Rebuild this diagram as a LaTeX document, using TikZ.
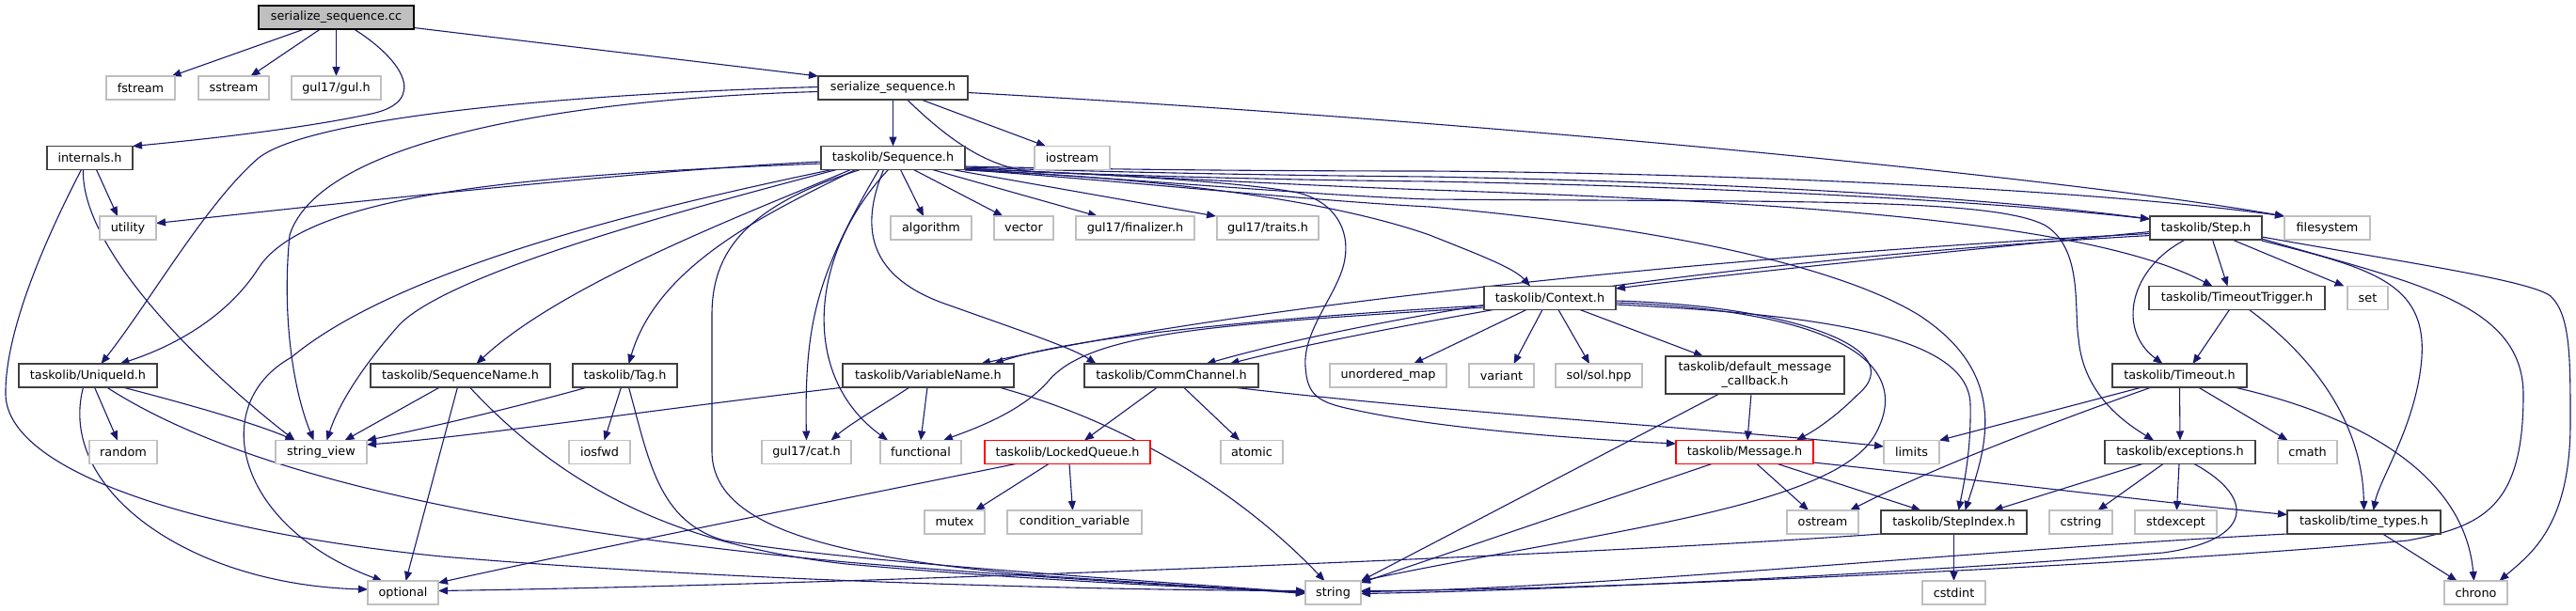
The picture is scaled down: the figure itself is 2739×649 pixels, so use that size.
\documentclass[tikz,border=0pt]{standalone}
\usepackage{fontspec}
\setmainfont{DejaVu Sans}
\usetikzlibrary{arrows.meta}
\definecolor{edgeblue}{HTML}{191970}
\definecolor{extgray}{HTML}{BFBFBF}
\definecolor{docgray}{HTML}{404040}
\definecolor{truncred}{HTML}{FF0000}
\newcommand\dxfont{\fontsize{12.8pt}{15pt}\selectfont}
\pgfdeclarelayer{bg}
\pgfsetlayers{bg,main}
\tikzset{
  box/.style={rectangle, minimum height=25pt, inner sep=0pt, outer sep=0pt, font=\dxfont, line width=1.2pt, fill=white},
  docbox/.style={box, draw=docgray},
  extbox/.style={box, draw=extgray},
  truncbox/.style={box, draw=truncred},
  rootbox/.style={box, draw=black, fill=extgray},
  dep/.style={draw=edgeblue, line width=1.1pt, -{Triangle[length=10pt,width=8pt]}},
}
\begin{document}
\begin{tikzpicture}[x=1pt,y=-1pt]
\useasboundingbox (0,0) rectangle (2739,649);
% ---------------- nodes ----------------
\node[rootbox, minimum width=165pt] (cc) at (357.5,18.5) {serialize\_sequence.cc};
\node[extbox, minimum width=73pt] (fstream) at (149.5,93.5) {fstream};
\node[extbox, minimum width=75pt] (sstream) at (248.5,93.5) {sstream};
\node[extbox, minimum width=95pt] (gul) at (357.5,93.5) {gul17/gul.h};
\node[docbox, minimum width=159pt] (ssh) at (949.5,93.5) {serialize\_sequence.h};
\node[docbox, minimum width=91pt] (internals) at (95.5,168) {internals.h};
\node[docbox, minimum width=153pt] (seq) at (949.5,168) {taskolib/Sequence.h};
\node[extbox, minimum width=80pt] (iostream) at (1140,168) {iostream};
\node[extbox, minimum width=60pt] (utility) at (136,242.5) {utility};
\node[extbox, minimum width=86pt] (algorithm) at (990,242.5) {algorithm};
\node[extbox, minimum width=63pt] (vector) at (1088.5,242.5) {vector};
\node[extbox, minimum width=126pt] (finalizer) at (1207,242.5) {gul17/finalizer.h};
\node[extbox, minimum width=108pt] (traits) at (1348,242.5) {gul17/traits.h};
\node[docbox, minimum width=119pt] (step) at (2345.5,242.5) {taskolib/Step.h};
\node[extbox, minimum width=91pt] (filesystem) at (2474.5,242.5) {filesystem};
\node[docbox, minimum width=140pt] (context) at (1648,317) {taskolib/Context.h};
\node[docbox, minimum width=187pt] (tt) at (2378.5,317) {taskolib/TimeoutTrigger.h};
\node[extbox, minimum width=43pt] (nset) at (2517.5,317) {set};
\node[docbox, minimum width=147pt] (uid) at (93.5,399.5) {taskolib/UniqueId.h};
\node[docbox, minimum width=191pt] (seqname) at (489.5,399.5) {taskolib/SequenceName.h};
\node[docbox, minimum width=111pt] (tag) at (664.5,399.5) {taskolib/Tag.h};
\node[docbox, minimum width=182pt] (varname) at (987,399.5) {taskolib/VariableName.h};
\node[docbox, minimum width=185pt] (comm) at (1245.5,399.5) {taskolib/CommChannel.h};
\node[extbox, minimum width=124pt] (umap) at (1476,399.5) {unordered\_map};
\node[extbox, minimum width=69pt] (variant) at (1596.5,399.5) {variant};
\node[extbox, minimum width=92pt] (sol) at (1700,399.5) {sol/sol.hpp};
\node[docbox, minimum width=190pt, minimum height=40pt, align=center] (dmc) at (1866,399) {taskolib/default\_message\\\_callback.h};
\node[docbox, minimum width=143pt] (timeout) at (2317.5,399.5) {taskolib/Timeout.h};
\node[extbox, minimum width=72pt] (random) at (131,481) {random};
\node[extbox, minimum width=97pt] (sv) at (341.5,481) {string\_view};
\node[extbox, minimum width=65pt] (iosfwd) at (637.5,481) {iosfwd};
\node[extbox, minimum width=95pt] (cat) at (857.5,481) {gul17/cat.h};
\node[extbox, minimum width=86pt] (functional) at (979,481) {functional};
\node[truncbox, minimum width=176pt] (lq) at (1135,481) {taskolib/LockedQueue.h};
\node[extbox, minimum width=66pt] (atomic) at (1331,481) {atomic};
\node[truncbox, minimum width=146pt] (msg) at (1855,481) {taskolib/Message.h};
\node[extbox, minimum width=59pt] (limits) at (2032.5,481) {limits};
\node[docbox, minimum width=160pt] (exc) at (2318,481) {taskolib/exceptions.h};
\node[extbox, minimum width=63pt] (cmath) at (2453.5,481) {cmath};
\node[extbox, minimum width=64pt] (mutex) at (1015,555.5) {mutex};
\node[extbox, minimum width=143pt] (condvar) at (1142.5,555.5) {condition\_variable};
\node[extbox, minimum width=76pt] (ostream) at (1938,555.5) {ostream};
\node[docbox, minimum width=155pt] (stepidx) at (2077.5,555.5) {taskolib/StepIndex.h};
\node[extbox, minimum width=67pt] (cstring) at (2212.5,555.5) {cstring};
\node[extbox, minimum width=87pt] (stdexcept) at (2313.5,555.5) {stdexcept};
\node[docbox, minimum width=163pt] (ttypes) at (2513.5,555.5) {taskolib/time\_types.h};
\node[extbox, minimum width=75pt] (optional) at (428.5,630.5) {optional};
\node[extbox, minimum width=59pt] (nstring) at (1417.5,630.5) {string};
\node[extbox, minimum width=67pt] (cstdint) at (2077.5,630.5) {cstdint};
\node[extbox, minimum width=67pt] (chrono) at (2632.5,630.5) {chrono};
% ---------------- edges ----------------
\begin{pgfonlayer}{bg}
\fill[white] (0,0) rectangle (2739,649);
% serialize_sequence.cc
\draw[dep] ([xshift=-34pt]cc.south) -- ([xshift=33pt]fstream.north);
\draw[dep] ([xshift=-17pt]cc.south) -- ([xshift=18pt]sstream.north);
\draw[dep] (cc.south) -- (gul.north);
\draw[dep] ([xshift=19pt]cc.south) .. controls (430,65) and (455,108) .. (395,121) .. controls (320,137) and (220,148) .. (internals.north east);
\draw[dep] ([yshift=-11pt]cc.east) -- (ssh.north west);
% internals.h
\draw[dep] ([xshift=7pt]internals.south) -- ([xshift=-11pt]utility.north);
\draw[dep] ([xshift=-7pt]internals.south) .. controls (86,260) and (200,380) .. ([xshift=-28pt]sv.north);
\draw[dep] ([xshift=-9pt]internals.south) .. controls (40,270) and (5,360) .. (6,420) .. controls (8,500) and (200,565) .. (470,592) .. controls (800,620) and (1200,628) .. ([yshift=2pt]nstring.west);
% serialize_sequence.h
\draw[dep] (ssh.south) -- (seq.north);
\draw[dep] ([xshift=30pt]ssh.south) -- ([xshift=-28pt]iostream.north);
\draw[dep] ([yshift=-5pt]ssh.east) .. controls (1600,130) and (2200,190) .. (filesystem.north west);
\draw[dep] ([yshift=1pt]ssh.west) .. controls (600,100) and (330,125) .. (275,168) .. controls (220,215) and (160,320) .. ([xshift=14pt]uid.north);
\draw[dep] ([yshift=-4pt]ssh.west) .. controls (600,105) and (340,150) .. (308,250) .. controls (300,330) and (310,410) .. ([xshift=-8pt]sv.north);
\draw[dep] ([xshift=15pt]ssh.south) .. controls (1010,150) and (1050,178) .. (1100,183) .. controls (1300,190) and (1420,192) .. (1520,193) .. controls (1900,200) and (2150,218) .. ([yshift=-3pt]step.north west);
% Sequence.h
\draw[dep] ([yshift=-4pt]seq.west) .. controls (700,180) and (400,212) .. ([yshift=5pt]utility.east);
\draw[dep] ([yshift=-6pt]seq.west) .. controls (600,185) and (330,200) .. (275,285) .. controls (240,340) and (180,370) .. ([xshift=34pt]uid.north);
\draw[dep] ([xshift=-65pt]seq.south) .. controls (720,215) and (430,280) .. (310,380) .. controls (220,430) and (250,560) .. ([xshift=-22pt]optional.north);
\draw[dep] ([xshift=-60pt]seq.south) .. controls (720,225) and (480,290) .. (425,345) .. controls (385,390) and (360,430) .. ([xshift=6pt]sv.north);
\draw[dep] ([xshift=-45pt]seq.south) .. controls (800,225) and (600,300) .. ([xshift=17pt]seqname.north);
\draw[dep] ([xshift=-40pt]seq.south) .. controls (820,225) and (700,280) .. ([xshift=4pt]tag.north);
\draw[dep] ([xshift=-35pt]seq.south) .. controls (790,220) and (757,270) .. (757,335) -- (757,480) .. controls (757,560) and (880,592) .. (1100,612) .. controls (1250,622) and (1330,628) .. ([yshift=1pt]nstring.west);
\draw[dep] ([xshift=-15pt]seq.south) .. controls (870,290) and (855,340) .. (cat.north);
\draw[dep] ([xshift=-5pt]seq.south) .. controls (860,270) and (850,400) .. ([xshift=-35pt]functional.north);
\draw[dep] ([xshift=-10pt]seq.south) .. controls (915,240) and (920,295) .. (1010,325) .. controls (1080,350) and (1140,370) .. ([xshift=-80pt]comm.north);
\draw[dep] ([xshift=8pt]seq.south) -- ([xshift=-8pt]algorithm.north);
\draw[dep] ([xshift=22pt]seq.south) -- ([xshift=-22pt]vector.north);
\draw[dep] ([xshift=42pt]seq.south) -- ([xshift=-40pt]finalizer.north);
\draw[dep] ([xshift=63pt]seq.south) -- ([xshift=-55pt]traits.north);
\draw[dep] ([yshift=-9pt]seq.east) .. controls (1200,181) and (1400,182) .. (1520,182) .. controls (1900,185) and (2250,205) .. (filesystem.north west);
\draw[dep] ([yshift=-10pt]seq.east) .. controls (1200,184) and (1400,187) .. (1520,188) .. controls (1900,195) and (2150,215) .. ([yshift=-3pt]step.north west);
\draw[dep] ([yshift=-11pt]seq.east) .. controls (1200,187) and (1400,198) .. (1520,202) .. controls (1900,215) and (2220,235) .. ([xshift=-26pt]tt.north);
\draw[dep] ([yshift=-12pt]seq.east) .. controls (1200,190) and (1400,208) .. (1520,212) .. controls (1900,215) and (2120,210) .. (2175,240) .. controls (2215,265) and (2205,330) .. (2210,360) .. controls (2215,420) and (2260,450) .. ([xshift=-28pt]exc.north);
\draw[dep] ([yshift=-12.5pt]seq.east) .. controls (1200,193) and (1400,214) .. (1520,220) .. controls (1750,240) and (1950,280) .. (2040,335) .. controls (2140,400) and (2110,480) .. ([xshift=12pt]stepidx.north);
\draw[dep] ([yshift=-11.5pt]seq.east) .. controls (1200,186) and (1330,195) .. (1380,205) .. controls (1420,215) and (1435,245) .. (1430,275) .. controls (1425,310) and (1385,350) .. (1388,390) .. controls (1390,420) and (1400,428) .. (1440,436) .. controls (1540,458) and (1700,468) .. ([yshift=9pt]msg.west);
\draw[dep] ([yshift=-13pt]seq.east) .. controls (1250,190) and (1420,215) .. (1520,250) .. controls (1570,270) and (1610,285) .. ([xshift=-21pt]context.north);
% Step.h
\draw[dep] ([xshift=-22pt]step.south) .. controls (2265,285) and (2250,350) .. ([xshift=-18pt]timeout.north);
\draw[dep] ([xshift=7pt]step.south) -- ([xshift=-10pt]tt.north);
\draw[dep] ([xshift=28pt]step.south) -- ([xshift=-25pt]nset.north);
\draw[dep] ([yshift=-1pt]step.south east) .. controls (2520,285) and (2580,300) .. (2575,380) .. controls (2570,450) and (2530,510) .. ([xshift=10pt]ttypes.north);
\draw[dep] ([yshift=1pt]step.south east) .. controls (2560,300) and (2683,320) .. (2683,420) .. controls (2683,540) and (2640,560) .. (2560,575) .. controls (2300,600) and (1700,628) .. ([yshift=2pt]nstring.east);
\draw[dep] ([yshift=3pt]step.south east) .. controls (2550,278) and (2690,298) .. (2712,315) .. controls (2733,335) and (2733,380) .. (2733,450) .. controls (2733,560) and (2690,590) .. ([xshift=25pt]chrono.north);
\draw[dep] ([yshift=-4pt]step.west) .. controls (2100,265) and (1850,290) .. ([yshift=10pt]context.east);
\draw[dep] ([yshift=-6pt]step.west) .. controls (1900,268) and (1350,318) .. ([xshift=56pt]varname.north);
\draw[dep] ([yshift=-8pt]step.west) .. controls (1900,272) and (1500,325) .. ([xshift=37pt]comm.north);
% Context.h
\draw[dep] ([yshift=-8pt]context.west) .. controls (1400,335) and (1150,355) .. ([xshift=70pt]varname.north);
\draw[dep] ([yshift=-10pt]context.west) .. controls (1300,345) and (1160,352) .. (1115,405) .. controls (1085,440) and (1030,458) .. ([xshift=24pt]functional.north);
\draw[dep] ([xshift=-60pt]context.south) .. controls (1500,345) and (1380,368) .. ([xshift=62pt]comm.north);
\draw[dep] ([xshift=-25pt]context.south) -- ([xshift=27pt]umap.north);
\draw[dep] ([xshift=-8pt]context.south) -- ([xshift=13pt]variant.north);
\draw[dep] ([xshift=9pt]context.south) -- ([xshift=-10pt]sol.north);
\draw[dep] ([xshift=32pt]context.south) -- ([xshift=-55pt]dmc.north);
\draw[dep] ([yshift=-3pt]context.east) .. controls (1900,325) and (2035,370) .. (1975,420) .. controls (1955,440) and (1935,455) .. ([xshift=55pt]msg.north);
\draw[dep] ([yshift=-5pt]context.east) .. controls (1950,330) and (2035,385) .. (1995,460) .. controls (1955,540) and (1700,565) .. (nstring.north east);
\draw[dep] ([yshift=-7pt]context.east) .. controls (1950,335) and (2093,360) .. (2095,430) .. controls (2096,480) and (2088,515) .. ([xshift=5pt]stepidx.north);
% default_message_callback.h
\draw[dep] ([xshift=-4pt]dmc.south) -- ([xshift=3pt]msg.north);
\draw[dep] ([xshift=-38pt]dmc.south) -- (nstring.north east);
% Message.h
\draw[dep] ([xshift=-35pt]msg.south) -- ([yshift=-2pt]nstring.north east);
\draw[dep] ([xshift=13pt]msg.south) -- ([xshift=-15pt]ostream.north);
\draw[dep] ([xshift=35pt]msg.south) -- ([xshift=-35pt]stepidx.north);
\draw[dep] ([yshift=-11pt]msg.east) .. controls (2100,510) and (2300,535) .. ([yshift=8pt]ttypes.west);
% CommChannel.h
\draw[dep] ([xshift=-15pt]comm.south) -- ([xshift=18pt]lq.north);
\draw[dep] ([xshift=13pt]comm.south) -- ([xshift=-13pt]atomic.north);
\draw[dep] ([xshift=65pt]comm.south) .. controls (1550,440) and (1850,458) .. ([yshift=6pt]limits.west);
% LockedQueue.h
\draw[dep] ([xshift=-20pt]lq.south) -- ([xshift=22pt]mutex.north);
\draw[dep] ([xshift=2pt]lq.south) -- ([xshift=-2pt]condvar.north);
\draw[dep] ([xshift=-55pt]lq.south) .. controls (900,530) and (600,590) .. ([yshift=-2pt]optional.north east);
% VariableName.h
\draw[dep] ([xshift=2pt]varname.south west) .. controls (700,435) and (500,465) .. ([yshift=8pt]sv.east);
\draw[dep] ([xshift=-20pt]varname.south) .. controls (940,430) and (905,450) .. ([xshift=26pt]cat.north);
\draw[dep] ([xshift=-1pt]varname.south) -- (functional.north);
\draw[dep] ([xshift=75pt]varname.south) .. controls (1200,450) and (1320,525) .. ([xshift=-9pt]nstring.north);
% Tag.h
\draw[dep] ([xshift=-40pt]tag.south) .. controls (560,430) and (470,452) .. (sv.north east);
\draw[dep] ([xshift=-4pt]tag.south) -- ([xshift=5pt]iosfwd.north);
\draw[dep] ([xshift=4pt]tag.south) .. controls (690,490) and (700,555) .. (770,575) .. controls (900,598) and (1250,620) .. (nstring.west);
% SequenceName.h
\draw[dep] ([xshift=-22pt]seqname.south) -- ([xshift=25pt]sv.north);
\draw[dep] ([xshift=-3pt]seqname.south) -- ([xshift=3pt]optional.north);
\draw[dep] ([xshift=10pt]seqname.south) .. controls (600,520) and (720,580) .. (900,600) .. controls (1100,618) and (1300,626) .. (nstring.west);
% UniqueId.h
\draw[dep] ([xshift=7pt]uid.south) -- ([xshift=-6pt]random.north);
\draw[dep] ([xshift=37pt]uid.south) .. controls (200,430) and (270,450) .. ([xshift=-28pt]sv.north);
\draw[dep] ([xshift=20pt]uid.south) .. controls (250,500) and (500,560) .. (900,598) .. controls (1100,615) and (1300,625) .. ([yshift=-1pt]nstring.west);
\draw[dep] ([xshift=-5pt]uid.south) .. controls (60,520) and (200,622) .. ([yshift=3.5pt]optional.west);
% Timeout.h
\draw[dep] ([xshift=-40pt]timeout.south) -- (limits.north east);
\draw[dep] ([xshift=-30pt]timeout.south) .. controls (2180,450) and (2050,500) .. ([xshift=29pt]ostream.north);
\draw[dep] (timeout.south) -- (exc.north);
\draw[dep] ([xshift=20pt]timeout.south) -- ([xshift=-21pt]cmath.north);
\draw[dep] ([xshift=58pt]timeout.south) .. controls (2500,440) and (2620,500) .. ([xshift=-2pt]chrono.north);
% TimeoutTrigger.h
\draw[dep] ([xshift=-8pt]tt.south) -- ([xshift=14pt]timeout.north);
\draw[dep] ([xshift=13pt]tt.south) .. controls (2460,380) and (2512,450) .. (ttypes.north);
% exceptions.h
\draw[dep] ([xshift=-40pt]exc.south) -- ([xshift=42pt]stepidx.north);
\draw[dep] ([xshift=-18pt]exc.south) -- ([xshift=18pt]cstring.north);
\draw[dep] ([xshift=-1pt]exc.south) -- ([xshift=1pt]stdexcept.north);
\draw[dep] ([xshift=15pt]exc.south) .. controls (2400,530) and (2395,575) .. (2300,588) .. controls (2000,612) and (1650,628) .. ([yshift=-1pt]nstring.east);
% StepIndex.h
\draw[dep] (stepidx.south) -- (cstdint.north);
\draw[dep] (stepidx.south west) .. controls (1700,590) and (900,622) .. ([yshift=2pt]optional.east);
% time_types.h
\draw[dep] ([xshift=20pt]ttypes.south) -- ([xshift=-20pt]chrono.north);
\draw[dep] (ttypes.south west) .. controls (2100,585) and (1700,626) .. ([yshift=1pt]nstring.east);
\end{pgfonlayer}
\end{tikzpicture}
\end{document}
